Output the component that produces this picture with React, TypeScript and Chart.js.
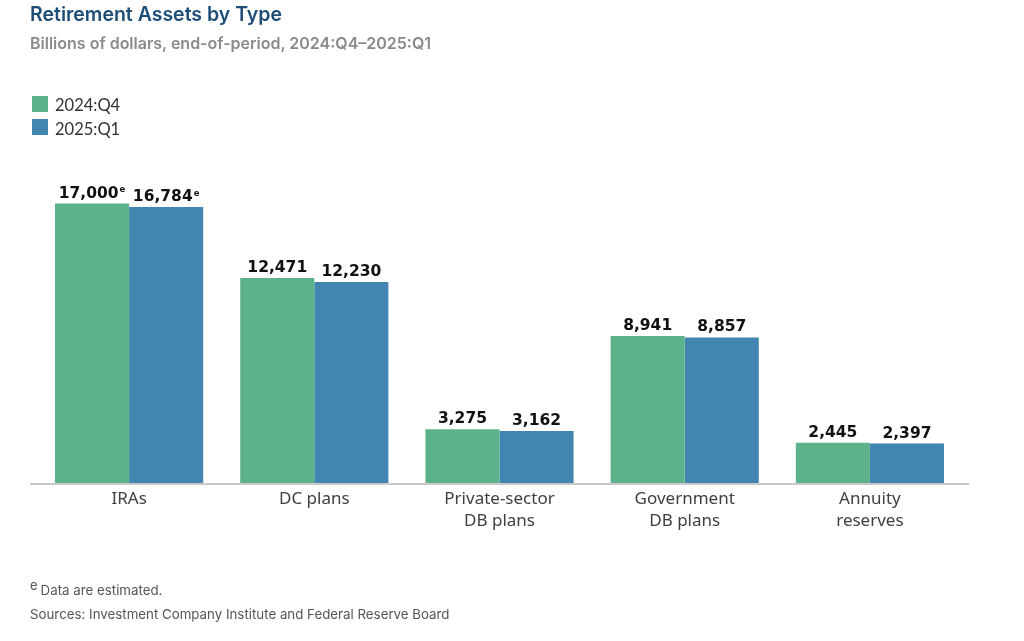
import React, { useEffect, useRef } from 'react';
import { Chart, registerables } from 'chart.js';

Chart.register(...registerables);

const categories: string[][] = [
  ['IRAs'],
  ['DC plans'],
  ['Private-sector', 'DB plans'],
  ['Government', 'DB plans'],
  ['Annuity', 'reserves'],
];
const seriesLabels = ['2024:Q4', '2025:Q1'];
const q4Values = [17000, 12471, 3275, 8941, 2445];
const q1Values = [16784, 12230, 3162, 8857, 2397];
const q4Estimated = [true, false, false, false, false];
const q1Estimated = [true, false, false, false, false];
const seriesColors = ['#5cb28b', '#4285b0'];
const yMax = 19000;

const estimatedFlags = [q4Estimated, q1Estimated];

const valueLabelPlugin = {
  id: 'valueLabels',
  afterDatasetsDraw(chart: any) {
    const ctx = chart.ctx as CanvasRenderingContext2D;
    chart.data.datasets.forEach((ds: any, di: number) => {
      const meta = chart.getDatasetMeta(di);
      const est = estimatedFlags[di];
      meta.data.forEach((bar: any, i: number) => {
        const v = ds.data[i] as number;
        const text = v.toLocaleString('en-US');
        ctx.save();
        const mainFont = 'bold 15.5px "DejaVu Sans"';
        const supFont = 'bold 8.5px "DejaVu Sans"';
        ctx.font = mainFont;
        const w = ctx.measureText(text).width;
        let sw = 0;
        if (est[i]) {
          ctx.font = supFont;
          sw = ctx.measureText('e').width + 1;
        }
        const x0 = bar.x - (w + sw) / 2;
        const y = bar.y - 6;
        ctx.fillStyle = '#111111';
        ctx.textAlign = 'left';
        ctx.textBaseline = 'alphabetic';
        ctx.font = mainFont;
        ctx.fillText(text, x0, y);
        if (est[i]) {
          ctx.font = supFont;
          ctx.fillText('e', x0 + w + 1, y - 5.5);
        }
        ctx.restore();
      });
    });
  },
};

const baselinePlugin = {
  id: 'baseline',
  afterDatasetsDraw(chart: any) {
    const { ctx, chartArea } = chart;
    ctx.save();
    ctx.strokeStyle = '#c9c9c9';
    ctx.lineWidth = 2;
    ctx.beginPath();
    ctx.moveTo(chartArea.left - 6.5, chartArea.bottom + 1);
    ctx.lineTo(chartArea.right + 6.5, chartArea.bottom + 1);
    ctx.stroke();
    ctx.restore();
  },
};

export default function App() {
  const canvasRef = useRef<HTMLCanvasElement | null>(null);

  useEffect(() => {
    if (!canvasRef.current) return;
    const chart = new Chart(canvasRef.current, {
      type: 'bar',
      data: {
        labels: categories,
        datasets: [
          {
            label: seriesLabels[0],
            data: q4Values,
            backgroundColor: seriesColors[0],
            borderWidth: 0,
          },
          {
            label: seriesLabels[1],
            data: q1Values,
            backgroundColor: seriesColors[1],
            borderWidth: 0,
          },
        ],
      },
      options: {
        animation: false,
        responsive: false,
        maintainAspectRatio: false,
        layout: {
          padding: { left: 36.5, right: 61.5, top: 483 - yMax * 0.01644, bottom: 641 - 483 - 60 },
        },
        datasets: {
          bar: { categoryPercentage: 0.8, barPercentage: 1.0 },
        },
        plugins: {
          legend: { display: false },
          tooltip: { enabled: false },
          title: { display: false },
        },
        scales: {
          x: {
            grid: { display: false, drawTicks: false },
            border: { display: false },
            ticks: {
              padding: 5,
              color: '#404040',
              font: { family: 'Noto Sans', size: 17, lineHeight: 1.3 },
            },
            afterFit: (scale: any) => {
              scale.height = 60;
            },
          },
          y: {
            display: false,
            min: 0,
            max: yMax,
          },
        },
      },
      plugins: [valueLabelPlugin, baselinePlugin],
    });
    return () => chart.destroy();
  }, []);

  const textBase: React.CSSProperties = {
    position: 'absolute',
    margin: 0,
    whiteSpace: 'nowrap',
    pointerEvents: 'none',
  };

  return (
    <div style={{ position: 'fixed', left: 0, top: 0, width: 1024, height: 641, background: '#ffffff', overflow: 'hidden' }}>
      <canvas ref={canvasRef} width={1024} height={641} style={{ position: 'absolute', left: 0, top: 0, width: 1024, height: 641 }} />
      <div style={{ ...textBase, left: 30, top: 3, fontFamily: 'Inter', fontWeight: 600, fontSize: 19.5, lineHeight: '23px', color: '#1e4d78' }}>
        Retirement Assets by Type
      </div>
      <div style={{ ...textBase, left: 30, top: 34, fontFamily: 'Inter', fontWeight: 600, fontSize: 16, lineHeight: '19px', color: '#8a8a8a' }}>
        Billions of dollars, end-of-period, 2024:Q4–2025:Q1
      </div>
      {seriesLabels.map((lab, i) => (
        <div key={lab} style={{ ...textBase, left: 32, top: 95 + i * 23.5, height: 17, display: 'flex', alignItems: 'center' }}>
          <span style={{ display: 'inline-block', width: 16, height: 16, background: seriesColors[i], marginRight: 7 }} />
          <span style={{ fontFamily: 'Lato', fontSize: 16.5, lineHeight: '17px', color: '#333333', position: 'relative', top: 2 }}>{lab}</span>
        </div>
      ))}
      <div style={{ ...textBase, left: 30, top: 582, fontFamily: 'Inter', fontSize: 13.3, lineHeight: '16px', color: '#555555' }}>
        <sup style={{ fontSize: 13, verticalAlign: 'top', position: 'relative', top: -5, marginRight: 3 }}>e</sup>
        Data are estimated.
      </div>
      <div style={{ ...textBase, left: 30, top: 606, fontFamily: 'Inter', fontSize: 13.3, lineHeight: '16px', color: '#555555' }}>
        Sources: Investment Company Institute and Federal Reserve Board
      </div>
    </div>
  );
}
